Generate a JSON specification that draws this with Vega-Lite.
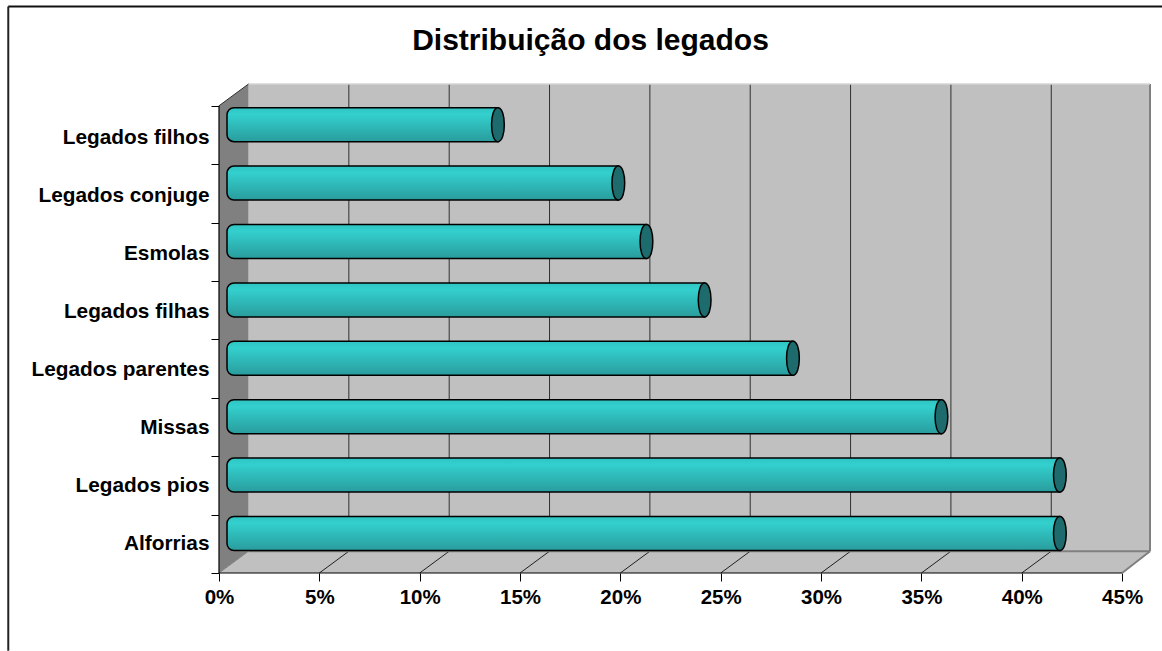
{
"$schema":"https://vega.github.io/schema/vega-lite/v6.json",
"width":931,"height":489,
"autosize":"none",
"padding":{"left":219,"top":84,"right":12,"bottom":78},
"background":"white",
"title":{"text":"Distribuição dos legados","font":"Liberation Sans","fontWeight":"bold","fontSize":30,"color":"black","anchor":"middle","dx":-94,"offset":-50},
"data":{"name":"moldura"},
"datasets":{
"moldura":[{"n":1}],
"legados":[
{"categoria":"Alforrias","pos":0.5,"valor":41.5},
{"categoria":"Legados pios","pos":1.5,"valor":41.5},
{"categoria":"Missas","pos":2.5,"valor":35.6},
{"categoria":"Legados parentes","pos":3.5,"valor":28.2},
{"categoria":"Legados filhas","pos":4.5,"valor":23.8},
{"categoria":"Esmolas","pos":5.5,"valor":20.9},
{"categoria":"Legados conjuge","pos":6.5,"valor":19.5},
{"categoria":"Legados filhos","pos":7.5,"valor":13.5}
],
"ticks":[{"tick":5,"fundo":6.47},{"tick":10,"fundo":11.47},{"tick":15,"fundo":16.47},{"tick":20,"fundo":21.47},{"tick":25,"fundo":26.47},{"tick":30,"fundo":31.47},{"tick":35,"fundo":36.47},{"tick":40,"fundo":41.47}],
"parede":[{"prof":0,"baixo":0,"alto":8},{"prof":1.47,"baixo":0.373,"alto":8.373}],
"chao":[{"nivel":0,"ini":0,"fim":45},{"nivel":0.373,"ini":1.47,"fim":46.39}]
},
"layer":[
{"mark":{"type":"rect","color":"#c0c0c0"},
 "encoding":{"x":{"datum":1.47,"type":"quantitative","scale":{"domain":[0,46.39],"nice":false,"zero":false,"padding":0},"axis":{"values":[0,5,10,15,20,25,30,35,40,45],"labelExpr":"datum.value+'%'","title":null,"domain":false,"grid":false,"tickSize":8,"tickColor":"black","tickWidth":1,"labelFont":"Liberation Sans","labelFontWeight":"bold","labelFontSize":20.5,"labelColor":"black","labelPadding":6,"labelFlush":false,"labelOverlap":false}},
 "x2":{"datum":46.39},
 "y":{"datum":0.373,"type":"quantitative","scale":{"domain":[0,8.373],"nice":false,"zero":false,"padding":0},"axis":{"values":[0,1,2,3,4,5,6,7,8],"labels":false,"title":null,"domain":false,"grid":false,"tickSize":8,"tickColor":"black","tickWidth":1,"orient":"left"}},
 "y2":{"datum":8.373}}},
{"mark":{"type":"rule","color":"#222222","strokeWidth":2},
 "encoding":{"x":{"datum":-10.5,"type":"quantitative"},"y":{"datum":-1.33,"type":"quantitative","axis":null},"y2":{"datum":9.7}}},
{"mark":{"type":"rule","color":"#111111","strokeWidth":2},
 "encoding":{"x":{"datum":-10.5,"type":"quantitative"},"x2":{"datum":47},"y":{"datum":9.7,"type":"quantitative","axis":null}}},
{"data":{"name":"parede"},"mark":{"type":"area","orient":"vertical","color":"#808080"},
 "encoding":{"x":{"field":"prof","type":"quantitative"},"y":{"field":"baixo","type":"quantitative","axis":null},"y2":{"field":"alto"}}},
{"data":{"name":"chao"},"mark":{"type":"area","orient":"horizontal","color":"#c0c0c0"},
 "encoding":{"y":{"field":"nivel","type":"quantitative","axis":null},"x":{"field":"ini","type":"quantitative"},"x2":{"field":"fim"}}},
{"data":{"name":"ticks"},"mark":{"type":"rule","color":"#303030","strokeWidth":1},
 "encoding":{"x":{"field":"fundo","type":"quantitative"},"y":{"datum":0.373,"type":"quantitative","axis":null},"y2":{"datum":8.373}}},
{"data":{"name":"ticks"},"mark":{"type":"rule","color":"#202020","strokeWidth":1},
 "encoding":{"x":{"field":"tick","type":"quantitative"},"x2":{"field":"fundo"},"y":{"datum":0,"type":"quantitative","axis":null},"y2":{"datum":0.373}}},
{"mark":{"type":"rule","color":"#808080","strokeWidth":1},
 "encoding":{"x":{"datum":0,"type":"quantitative"},"x2":{"datum":1.47},"y":{"datum":0,"type":"quantitative","axis":null},"y2":{"datum":0.373}}},
{"mark":{"type":"rule","color":"#808080","strokeWidth":2},
 "encoding":{"x":{"datum":45,"type":"quantitative"},"x2":{"datum":46.39},"y":{"datum":0,"type":"quantitative","axis":null},"y2":{"datum":0.373}}},
{"mark":{"type":"rule","color":"#808080","strokeWidth":2},
 "encoding":{"x":{"datum":46.39,"type":"quantitative"},"y":{"datum":0.373,"type":"quantitative","axis":null},"y2":{"datum":8.373}}},
{"mark":{"type":"rule","color":"#808080","strokeWidth":2},
 "encoding":{"x":{"datum":1.47,"type":"quantitative"},"x2":{"datum":46.39},"y":{"datum":0.373,"type":"quantitative","axis":null}}},
{"mark":{"type":"rule","color":"#d4d4d4","strokeWidth":1.5},
 "encoding":{"x":{"datum":1.47,"type":"quantitative"},"x2":{"datum":46.39},"y":{"datum":8.373,"type":"quantitative","axis":null}}},
{"mark":{"type":"rule","color":"#303030","strokeWidth":1},
 "encoding":{"x":{"datum":0,"type":"quantitative"},"x2":{"datum":1.47},"y":{"datum":8,"type":"quantitative","axis":null},"y2":{"datum":8.373}}},
{"mark":{"type":"rule","color":"black","strokeWidth":1.2},
 "encoding":{"x":{"datum":0,"type":"quantitative"},"y":{"datum":0,"type":"quantitative","axis":null},"y2":{"datum":8}}},
{"mark":{"type":"rule","color":"black","strokeWidth":1.2},
 "encoding":{"x":{"datum":0,"type":"quantitative"},"x2":{"datum":45},"y":{"datum":0,"type":"quantitative","axis":null}}},
{"data":{"name":"legados"},
 "mark":{"type":"bar","orient":"horizontal","size":34,"xOffset":8,"x2Offset":8,"yOffset":-10.3,"cornerRadiusTopLeft":7,"cornerRadiusBottomLeft":7,"stroke":"black","strokeWidth":1.5,
  "fill":{"gradient":"linear","x1":0,"y1":0,"x2":0,"y2":1,"stops":[{"offset":0,"color":"#2fc4c2"},{"offset":0.2,"color":"#33d0ce"},{"offset":0.5,"color":"#2fbcbb"},{"offset":1,"color":"#2a9c9d"}]}},
 "encoding":{"x":{"field":"valor","type":"quantitative"},"x2":{"datum":0},
  "y":{"field":"pos","type":"quantitative","axis":{"values":[0.5,1.49,2.49,3.48,4.47,5.47,6.46,7.45],"labelExpr":"['Alforrias','Legados pios','Missas','Legados parentes','Legados filhas','Esmolas','Legados conjuge','Legados filhos'][floor(datum.value)]","ticks":false,"domain":false,"grid":false,"title":null,"orient":"left","labelPadding":10,"labelFont":"Liberation Sans","labelFontWeight":"bold","labelFontSize":20.8,"labelColor":"black","labelOverlap":false,"labelFlush":false}}}},
{"data":{"name":"legados"},
 "mark":{"type":"point","shape":"M0,-1 C0.5,-1 0.5,1 0,1 C-0.5,1 -0.5,-1 0,-1 Z","size":1156,"filled":true,"fill":"#1d6b6d","stroke":"black","strokeWidth":1.5,"opacity":1,"xOffset":8,"yOffset":-10.3},
 "encoding":{"x":{"field":"valor","type":"quantitative"},"y":{"field":"pos","type":"quantitative","axis":null}}}
],
"resolve":{"axis":{"y":"independent"}},
"config":{"view":{"stroke":null}}
}
